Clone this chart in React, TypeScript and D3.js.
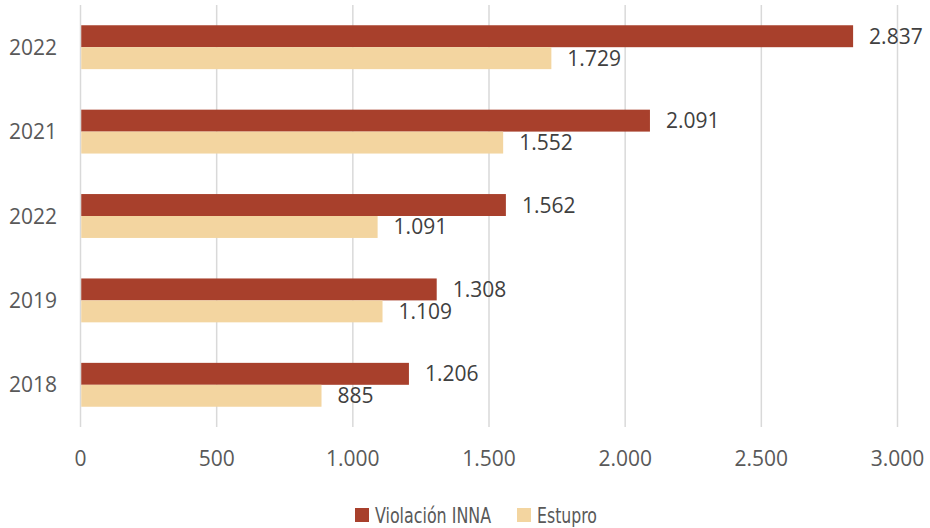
import React, { useEffect, useRef } from "react";
import * as d3 from "d3";

const years = ["2022", "2021", "2022", "2019", "2018"];
const violacion = [2837, 2091, 1562, 1308, 1206];
const estupro = [1729, 1552, 1091, 1109, 885];
const xTicks = [0, 500, 1000, 1500, 2000, 2500, 3000];
const seriesNames = ["Violación INNA", "Estupro"];
const colors = ["#A8402C", "#F3D5A0"];

function BarChart() {
  const ref = useRef<SVGSVGElement | null>(null);
  const width = 930;
  const height = 528;

  useEffect(() => {
    const fmt = (v: number) => d3.format(",")(v).replace(/,/g, ".");

    const x = d3.scaleLinear().domain([0, 3000]).range([80.5, 897.5]);
    const y = d3
      .scaleBand<number>()
      .domain(d3.range(years.length))
      .range([5, 427])
      .paddingInner(0.48)
      .paddingOuter(0.24);
    const sub = d3
      .scaleBand<number>()
      .domain([0, 1])
      .range([0, y.bandwidth()]);

    const svg = d3.select(ref.current);
    svg.selectAll("*").remove();
    svg
      .attr("width", width)
      .attr("height", height)
      .attr("viewBox", [0, 0, width, height])
      .attr("style", "display:block; font-family: 'Open Sans', sans-serif;");

    // gridlines
    svg
      .append("g")
      .selectAll("line")
      .data(xTicks)
      .join("line")
      .attr("x1", (d) => x(d))
      .attr("x2", (d) => x(d))
      .attr("y1", 5)
      .attr("y2", 427)
      .attr("stroke", "#D9D9D9")
      .attr("stroke-width", 1.5);

    // x tick labels
    svg
      .append("g")
      .selectAll("text")
      .data(xTicks)
      .join("text")
      .attr("x", (d) => x(d))
      .attr("y", 466)
      .attr("text-anchor", "middle")
      .attr("font-size", 21)
      .attr("fill", "#595959")
      .text((d) => fmt(d));

    // year labels
    svg
      .append("g")
      .selectAll("text")
      .data(years)
      .join("text")
      .attr("x", 57)
      .attr("y", (_, i) => (y(i) as number) + y.bandwidth() / 2 + 7.5)
      .attr("text-anchor", "end")
      .attr("font-size", 21)
      .attr("fill", "#595959")
      .text((d) => d);

    const series = [violacion, estupro];
    series.forEach((vals, s) => {
      const g = svg.append("g");
      g.selectAll("rect")
        .data(vals)
        .join("rect")
        .attr("x", x(0) + 0.75)
        .attr("y", (_, i) => (y(i) as number) + (sub(s) as number))
        .attr("width", (d) => x(d) - x(0) - 0.75)
        .attr("height", sub.bandwidth())
        .attr("fill", colors[s]);

      g.selectAll("text")
        .data(vals)
        .join("text")
        .attr("x", (d) => x(d) + 16)
        .attr(
          "y",
          (_, i) =>
            (y(i) as number) + (sub(s) as number) + sub.bandwidth() / 2 + 7.5
        )
        .attr("font-size", 21)
        .attr("fill", "#404040")
        .text((d) => fmt(d));
    });

    // legend
    const legendX = [355, 517];
    const legendW = [116, 60];
    const legend = svg
      .append("g")
      .selectAll("g")
      .data(seriesNames)
      .join("g")
      .attr("transform", (_, i) => `translate(${legendX[i]},508)`);
    legend
      .append("rect")
      .attr("width", 14)
      .attr("height", 14)
      .attr("fill", (_, i) => colors[i]);
    legend
      .append("text")
      .attr("x", 20)
      .attr("y", 15)
      .attr("font-family", "'Liberation Sans Narrow', 'DejaVu Sans Condensed', sans-serif")
      .attr("font-size", 22)
      .attr("fill", "#595959")
      .attr("textLength", (_, i) => legendW[i])
      .attr("lengthAdjust", "spacingAndGlyphs")
      .text((d) => d);
  }, []);

  return <svg ref={ref}></svg>;
}

export default function App() {
  return (
    <div style={{ position: "absolute", left: 0, top: 0 }}>
      <BarChart />
    </div>
  );
}
